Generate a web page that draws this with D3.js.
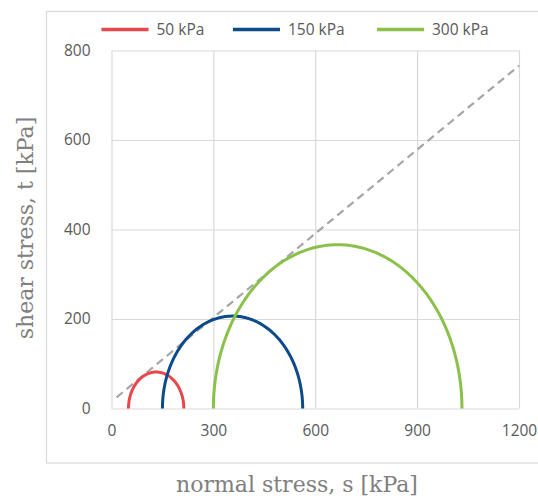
<!DOCTYPE html>
<html>
<head>
<meta charset="utf-8">
<script src="https://cdn.jsdelivr.net/npm/d3@7"></script>
<style>
  html, body { margin: 0; padding: 0; background: #fff; }
  svg { display: block; }
</style>
</head>
<body>
<svg id="chart" width="538" height="499"></svg>
<script>
// Confining pressures (legend) and principal stresses of each test
const seriesLabels = ["50 kPa", "150 kPa", "300 kPa"];
const sigma3 = [50, 150, 300];      // minor principal stress, kPa
const sigma1 = [213, 563, 1032];    // major principal stress, kPa
const seriesColors = ["#e8474b", "#0d4a8a", "#8bc14a"];

// Failure envelope endpoints (normal stress, shear stress)
const envelopeX = [15, 1200];
const envelopeY = [25, 766];

const xTicks = [0, 300, 600, 900, 1200];
const yTicks = [0, 200, 400, 600, 800];

const svg = d3.select("#chart");
const plot = { left: 111.5, right: 519, top: 50.5, bottom: 408.5 };

const x = d3.scaleLinear().domain([0, 1200]).range([plot.left, plot.right]);
const y = d3.scaleLinear().domain([0, 800]).range([plot.bottom, plot.top]);

// Outer chart frame
svg.append("rect")
  .attr("x", 46.5).attr("y", 11.5)
  .attr("width", 520).attr("height", 451.5)
  .attr("fill", "none").attr("stroke", "#d9d9d9").attr("stroke-width", 1.2);

// Gridlines
svg.append("g")
  .attr("transform", `translate(0,${plot.bottom})`)
  .call(d3.axisBottom(x).tickValues(xTicks).tickSize(-(plot.bottom - plot.top)).tickFormat(""))
  .call(g => g.select(".domain").remove())
  .call(g => g.selectAll("line").attr("stroke", "#d9d9d9").attr("stroke-width", 1.2));

svg.append("g")
  .attr("transform", `translate(${plot.left},0)`)
  .call(d3.axisLeft(y).tickValues(yTicks).tickSize(-(plot.right - plot.left)).tickFormat(""))
  .call(g => g.select(".domain").remove())
  .call(g => g.selectAll("line").attr("stroke", "#d9d9d9").attr("stroke-width", 1.2));

// Tick labels
const tickFont = "'Open Sans', 'Noto Sans', sans-serif";
svg.append("g")
  .attr("transform", `translate(0,${plot.bottom + 13})`)
  .call(d3.axisBottom(x).tickValues(xTicks).tickSize(0).tickFormat(d3.format("d")))
  .call(g => g.select(".domain").remove())
  .call(g => g.selectAll("text")
    .attr("fill", "#595959").attr("font-family", tickFont).attr("font-size", 15.5));

svg.append("g")
  .attr("transform", `translate(${plot.left - 18},0)`)
  .call(d3.axisLeft(y).tickValues(yTicks).tickSize(0).tickFormat(d3.format("d")))
  .call(g => g.select(".domain").remove())
  .call(g => g.selectAll("text")
    .attr("fill", "#595959").attr("font-family", tickFont).attr("font-size", 15.5));

// Mohr-Coulomb failure envelope
svg.append("line")
  .attr("x1", x(envelopeX[0])).attr("y1", y(envelopeY[0]))
  .attr("x2", x(envelopeX[1])).attr("y2", y(envelopeY[1]))
  .attr("stroke", "#a6a6a6").attr("stroke-width", 2.2)
  .attr("stroke-dasharray", "8,5");

// Mohr circles (upper halves)
const mohr = sigma3.map((s3, i) => {
  const c = (s3 + sigma1[i]) / 2, r = (sigma1[i] - s3) / 2;
  const pts = d3.range(0, 181).map(a => {
    const t = Math.PI - a * Math.PI / 180;
    return [c + r * Math.cos(t), r * Math.sin(t)];
  });
  return { pts, color: seriesColors[i] };
});

const line = d3.line().x(d => x(d[0])).y(d => y(d[1]));
svg.append("g").selectAll("path")
  .data(mohr)
  .join("path")
  .attr("d", d => line(d.pts))
  .attr("fill", "none")
  .attr("stroke", d => d.color)
  .attr("stroke-width", 3);

// Legend
const legendX = [101.5, 233, 377];
const leg = svg.append("g").selectAll("g")
  .data(seriesLabels)
  .join("g")
  .attr("transform", (d, i) => `translate(${legendX[i]},29.5)`);
leg.append("line")
  .attr("x1", 0).attr("x2", 47)
  .attr("stroke", (d, i) => seriesColors[i]).attr("stroke-width", 3.5);
leg.append("text")
  .attr("x", 55).attr("dy", "0.35em")
  .attr("fill", "#595959").attr("font-family", tickFont).attr("font-size", 15.5)
  .text(d => d);

// Axis titles
const titleFont = "'DejaVu Serif', 'Liberation Serif', serif";
svg.append("text")
  .attr("x", 297).attr("y", 492)
  .attr("text-anchor", "middle")
  .attr("fill", "#808080").attr("font-family", titleFont).attr("font-size", 22)
  .attr("font-weight", 300)
  .text("normal stress, s [kPa]");

svg.append("text")
  .attr("transform", "translate(33,228) rotate(-90)")
  .attr("text-anchor", "middle")
  .attr("fill", "#808080").attr("font-family", titleFont).attr("font-size", 22)
  .attr("font-weight", 300)
  .text("shear stress, t [kPa]");
</script>
</body>
</html>
